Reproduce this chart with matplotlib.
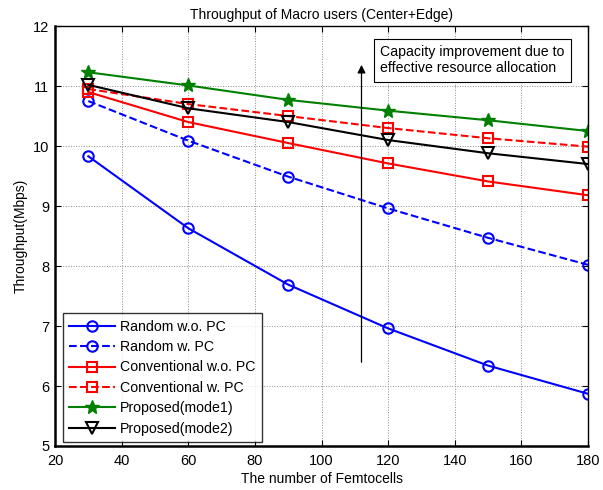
import matplotlib
matplotlib.use("Agg")
import matplotlib.pyplot as plt

plt.rcParams['font.family'] = ['Liberation Sans', 'DejaVu Sans']

femtocells = [30, 60, 90, 120, 150, 180]
random_wo_pc = [9.83, 8.63, 7.69, 6.96, 6.34, 5.87]
random_w_pc = [10.75, 10.09, 9.49, 8.96, 8.47, 8.02]
conv_wo_pc = [10.90, 10.40, 10.05, 9.71, 9.41, 9.18]
conv_w_pc = [10.95, 10.70, 10.50, 10.30, 10.13, 9.99]
proposed_mode1 = [11.23, 11.01, 10.77, 10.59, 10.43, 10.25]
proposed_mode2 = [11.02, 10.63, 10.40, 10.10, 9.88, 9.70]

labels = ["Random w.o. PC", "Random w. PC", "Conventional w.o. PC",
          "Conventional w. PC", "Proposed(mode1)", "Proposed(mode2)"]
xticks = [20, 40, 60, 80, 100, 120, 140, 160, 180]
yticks = [5, 6, 7, 8, 9, 10, 11, 12]
title = "Throughput of Macro users (Center+Edge)"
xlabel = "The number of Femtocells"
ylabel = "Throughput(Mbps)"
note = "Capacity improvement due to\neffective resource allocation"

fig = plt.figure(figsize=(6.03, 4.90), dpi=100)
ax = fig.add_axes([0.0912, 0.0898, 0.884, 0.857])

lw = 1.5
ax.plot(femtocells, random_wo_pc, '-', color='blue', marker='o', mfc='none', mec='blue', ms=7.5, mew=1.5, lw=lw, label=labels[0])
ax.plot(femtocells, random_w_pc, '--', color='blue', marker='o', mfc='none', mec='blue', ms=7.5, mew=1.5, lw=lw, label=labels[1])
ax.plot(femtocells, conv_wo_pc, '-', color='red', marker='s', mfc='none', mec='red', ms=6.8, mew=1.5, lw=lw, label=labels[2])
ax.plot(femtocells, conv_w_pc, '--', color='red', marker='s', mfc='none', mec='red', ms=6.8, mew=1.5, lw=lw, label=labels[3])
ax.plot(femtocells, proposed_mode1, '-', color='green', marker='*', mfc='green', mec='green', ms=10, mew=1.0, lw=lw, label=labels[4])
ax.plot(femtocells, proposed_mode2, '-', color='black', marker='v', mfc='none', mec='black', ms=8, mew=1.5, lw=lw, label=labels[5])

ax.set_xlim(20, 180)
ax.set_ylim(5, 12)
ax.set_xticks(xticks)
ax.set_yticks(yticks)
ax.grid(True, color='0.55', lw=0.7, ls=':')
ax.tick_params(direction='in', top=True, right=True, labelsize=10.5, length=4)
ax.tick_params(axis='x', pad=6)
ax.tick_params(axis='y', pad=4)
for s in ax.spines.values():
    s.set_linewidth(1.0)
ax.spines['bottom'].set_linewidth(1.8)
ax.spines['left'].set_linewidth(1.8)

ax.set_title(title, fontsize=10, pad=5)
ax.set_xlabel(xlabel, fontsize=10, labelpad=3)
ax.set_ylabel(ylabel, fontsize=10, labelpad=4)

ax.annotate("", xy=(112, 11.4), xytext=(112, 6.35),
            arrowprops=dict(arrowstyle='-|>', color='black', lw=0.9, mutation_scale=12))
ax.text(117.6, 11.43, note, fontsize=10.2, va='center', ha='left',
        bbox=dict(boxstyle='square,pad=0.45', fc='white', ec='black', lw=0.8))

leg = ax.legend(loc='lower left', fontsize=10.2, frameon=True, fancybox=False,
                edgecolor='black', bbox_to_anchor=(8 / 533, 4 / 420), borderaxespad=0,
                handlelength=3.2, labelspacing=0.45, borderpad=0.45, handletextpad=0.35)
leg.get_frame().set_linewidth(1.0)

fig.savefig("out.png", dpi=100)
